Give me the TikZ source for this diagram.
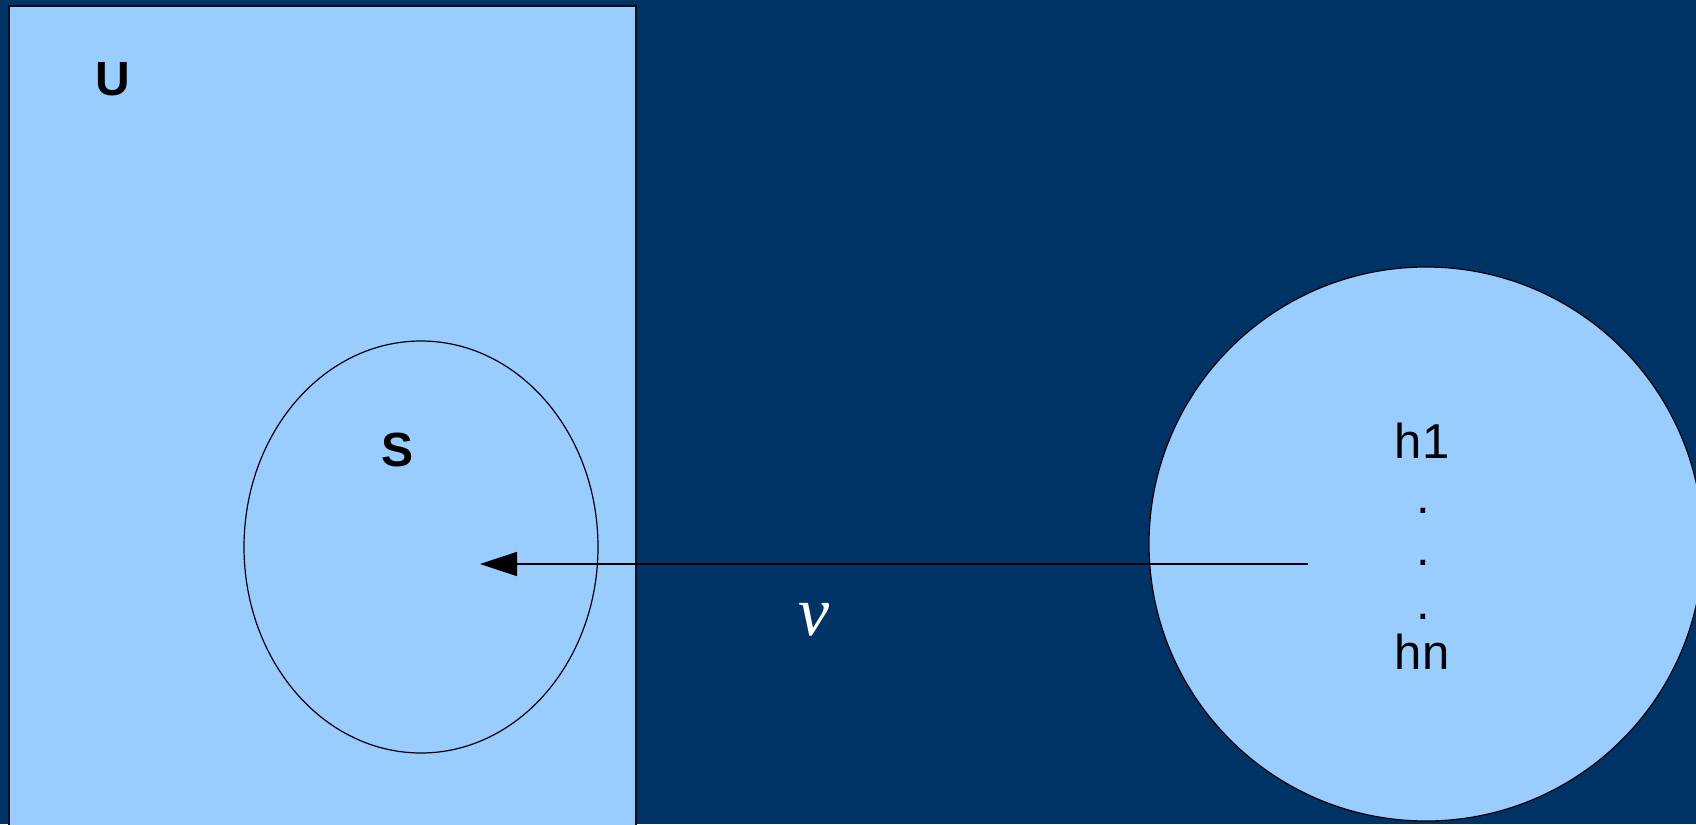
\documentclass[tikz,border=0pt]{standalone}
\usepackage{fontspec}
\setmainfont{Liberation Sans}
\newfontfamily\vfont{Liberation Serif}
\usetikzlibrary{shapes.geometric,arrows.meta}
\definecolor{bgblue}{RGB}{0,51,102}
\definecolor{lightblue}{RGB}{153,204,255}
\tikzset{
  lbl/.style={font=\fontsize{24.5}{28}\selectfont, text=black, inner sep=0pt},
  blbl/.style={font=\fontsize{24}{28}\selectfont\bfseries, text=black, inner sep=0pt},
  outline/.style={draw=black, line width=0.6pt},
  vec/.style={draw=black, line width=0.8pt, -{Triangle[length=18.5pt,width=12pt]}}
}
\begin{document}
\begin{tikzpicture}[x=0.5pt,y=-0.5pt]
\useasboundingbox (0,0) rectangle (1696,824);
\clip (0,0) rectangle (1696,824);
\fill[bgblue] (0,0) rectangle (1696,824);
% universe rectangle
\path[fill=lightblue, draw=black!80!bgblue, line width=1pt] (9,6) rectangle (636,840);
\node[blbl] (U) at (113,79) {U};
% set S
\node[ellipse, outline, fill=lightblue, minimum width=177pt, minimum height=206pt, inner sep=0pt] (Sset) at (421,547) {};
\node[blbl] (S) at (398,450) {S};
% hypothesis circle
\node[circle, outline, fill=lightblue, minimum size=277pt, inner sep=0pt] (H) at (1426,544) {};
\node[lbl] (h1) at (1422,441) {h1};
\node[lbl] (d1) at (1423,511) {.};
\node[lbl] (d2) at (1423,563) {.};
\node[lbl] (d3) at (1423,617) {.};
\node[lbl] (hn) at (1422,652) {hn};
% arrow
\coordinate (start) at (1308,564);
\coordinate (tip) at (480,564);
\draw[vec] (start) -- (tip);
\node[font=\vfont\itshape\fontsize{35}{40}\selectfont, text=white, inner sep=0pt] (v) at (814,620) {v};
\end{tikzpicture}
\end{document}
